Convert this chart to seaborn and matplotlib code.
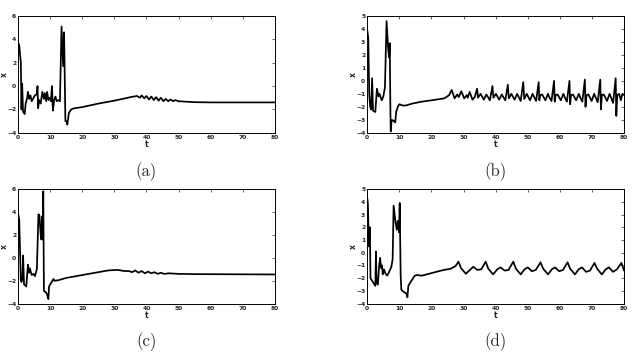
import numpy as np
import pandas as pd
import seaborn as sns
import matplotlib.pyplot as plt

# panel (a)
t_a = [0, 0.3, 0.8, 1.0, 1.2, 1.5, 2.0, 2.3, 2.8, 3.0, 3.4, 3.8, 4.2, 4.8, 5.2, 5.8, 6.0, 6.2, 6.5,
       7.0, 7.5, 8.0, 8.3, 8.7, 9.0, 9.4, 9.8, 10.2, 10.5, 10.8, 11.2, 11.6, 12.0, 12.5, 13.0, 13.5,
       14.0, 14.3, 14.7, 15.1, 15.3, 15.8, 16.5, 17.5, 20, 25, 30, 35, 37, 38, 38.5, 39.3, 40, 40.8,
       41.5, 42.3, 43, 43.8, 44.5, 45.3, 46, 46.8, 47.5, 48.3, 49, 50, 55, 60, 80]
x_a = [3.7, 3.5, 2.0, -2.0, 0.2, -2.2, -2.4, -1.5, -1.0, -0.5, -1.1, -0.8, -1.3, -1.0, -0.8, -0.7, 0.0,
       -1.9, -1.2, -1.5, -0.5, -1.1, -0.6, -1.3, -0.5, -1.2, -1.0, -1.3, 0.0, -2.1, -1.2, -0.9, -1.3,
       -1.2, -1.3, 5.1, 1.7, 4.6, -3.0, -3.0, -3.3, -2.3, -2.0, -1.9, -1.8, -1.5, -1.25, -0.95, -0.85,
       -1.0, -0.8, -1.05, -0.85, -1.15, -0.9, -1.2, -0.95, -1.25, -1.0, -1.3, -1.1, -1.3, -1.15, -1.3,
       -1.2, -1.3, -1.38, -1.4, -1.4]

# panel (b)
t_b = [0, 0.3, 0.6, 0.9, 1.2, 1.5, 1.8, 2.5, 3.0, 3.5, 3.8, 4.5, 5.0, 5.5, 6.0, 6.5, 6.8, 7.0, 7.2,
       7.3, 7.6, 8.3, 8.7, 9.0, 9.5, 10, 11, 12, 14, 17, 20, 24, 25.5, 26.3, 27.2, 28.0, 28.5, 29.3,
       30.2, 31.0, 31.3, 31.9, 32.8, 33.5, 34.2,
       34.5, 35.3, 36.3, 37.1, 37.6, 38.2, 39.0,
       39.3, 40.1, 41.1, 41.9, 42.4, 43.0, 43.8,
       44.1, 44.9, 45.9, 46.7, 47.2, 47.8, 48.6,
       48.9, 49.7, 50.7, 51.5, 52.0, 52.6, 53.4,
       53.6, 53.9, 54.5, 55.5, 56.3, 56.8, 57.4, 58.2,
       58.4, 58.7, 59.3, 60.3, 61.1, 61.6, 62.2, 63.0,
       63.2, 63.5, 64.1, 65.1, 65.9, 66.4, 67.0, 67.8,
       68.0, 68.3, 68.9, 69.9, 70.7, 71.2, 71.8, 72.6,
       72.8, 73.1, 73.7, 74.7, 75.5, 76.0, 76.6, 77.4,
       77.6, 77.9, 78.5, 79.0, 79.5, 80]
x_b = [3.9, 3.3, -1.0, -2.0, -2.2, 0.2, -2.3, -2.4, -0.6, -1.2, -1.0, -1.5, -1.2, -0.5, 4.6, 2.5, 1.8,
       2.9, -2.3, -3.9, -3.0, -3.1, -3.2, -2.4, -2.0, -1.8, -1.9, -1.9, -1.75, -1.6, -1.5, -1.35, -1.1,
       -0.7, -1.35, -1.05, -1.25, -0.8, -1.35, -1.1, -1.3, -0.85, -1.45, -1.25, -0.6,
       -1.3, -1.0, -1.45, -1.05, -1.25, -1.5, -0.4,
       -1.3, -1.0, -1.45, -1.05, -1.25, -1.5, -0.3,
       -1.35, -1.0, -1.45, -1.0, -1.25, -1.55, -0.1,
       -1.4, -1.0, -1.5, -1.0, -1.25, -1.55, -0.1,
       -1.5, -1.1, -1.05, -1.5, -1.0, -1.3, -1.55, 0.0,
       -1.6, -1.1, -1.05, -1.5, -1.0, -1.3, -1.6, 0.0,
       -1.8, -1.1, -1.05, -1.5, -1.0, -1.3, -1.6, 0.1,
       -2.0, -1.1, -1.05, -1.55, -1.0, -1.3, -1.65, 0.1,
       -2.2, -1.1, -1.05, -1.55, -1.0, -1.3, -1.7, 0.2,
       -2.7, -1.1, -1.0, -1.5, -1.0, -1.1]

# panel (c)
t_c = [0, 0.3, 0.8, 1.0, 1.3, 1.5, 1.8, 2.5, 3.0, 3.3, 3.6, 4.2, 4.8, 5.2, 5.8, 6.3, 6.6, 7.0, 7.2,
       7.4, 7.6, 7.8, 8.0, 8.6, 9.0, 9.4, 9.6, 10.2, 11.0, 11.3, 12.5, 15, 20, 25, 28, 31, 33, 34.5,
       35.5, 36.5, 37.5, 38.5, 39.5, 40.5, 41.5, 42.5, 43.5, 44.5, 45.5, 47, 50, 55, 80]
x_c = [3.8, 3.3, -2.0, -2.1, -1.9, 0.2, -2.3, -2.5, -0.6, -1.3, -0.9, -1.5, -1.4, -1.6, -1.0, 3.8,
       3.7, 2.0, 1.6, 3.6, 1.6, 5.8, -2.9, -3.0, -3.2, -3.6, -2.5, -2.2, -1.85, -2.0, -1.95, -1.75,
       -1.5, -1.25, -1.1, -1.05, -1.15, -1.15, -1.25, -1.1, -1.3, -1.15, -1.35, -1.2, -1.35, -1.25,
       -1.4, -1.3, -1.4, -1.35, -1.4, -1.42, -1.45]

# panel (d)
t_d = [0, 0.2, 0.5, 0.8, 1.0, 2.0, 2.5, 2.7, 2.9, 3.3, 3.7, 4.0, 4.3, 4.6, 4.8, 5.2, 5.6, 6.2, 6.8,
       7.5, 7.9, 8.2, 8.8, 9.2, 9.5, 9.7, 9.9, 10.1, 10.4, 10.6, 11.5, 12.2, 12.5, 12.8, 13.5, 14.8,
       15.5, 17, 20, 23, 26, 27.5, 28.4,
       29.2, 30.7, 32.0, 33.0, 34.3, 35.5, 36.9,
       37.7, 39.2, 40.5, 41.5, 42.8, 44.0, 45.5,
       46.3, 47.8, 49.0, 50.0, 51.3, 52.5, 54.0,
       54.8, 56.3, 57.5, 58.5, 59.8, 61.0, 62.4,
       63.2, 64.7, 65.9, 66.9, 68.2, 69.4, 70.8,
       71.6, 73.1, 74.3, 75.3, 76.6, 77.8, 79.2, 80]
x_d = [4.3, 3.8, 0.5, 2.0, -2.0, -2.4, -2.6, 0.1, -2.4, -2.5, -1.0, -0.4, -1.2, -1.0, -1.7, -1.3, -1.6,
       -1.8, -1.5, -1.1, -0.5, 3.7, 2.4, 1.8, 2.5, 2.2, 1.6, 3.9, -1.8, -2.9, -3.1, -3.2, -3.5, -2.6,
       -2.3, -1.8, -1.75, -1.8, -1.6, -1.4, -1.25, -1.05, -0.7,
       -1.2, -1.65, -1.35, -1.1, -1.35, -1.3, -0.7,
       -1.25, -1.7, -1.3, -1.15, -1.4, -1.35, -0.7,
       -1.25, -1.7, -1.3, -1.15, -1.45, -1.35, -0.75,
       -1.25, -1.7, -1.3, -1.15, -1.45, -1.35, -0.75,
       -1.25, -1.7, -1.3, -1.15, -1.5, -1.4, -0.8,
       -1.25, -1.7, -1.3, -1.15, -1.5, -1.3, -0.8, -1.4]

panels = [
    ("(a)", t_a, x_a, [-4, -2, 0, 2, 4, 6]),
    ("(b)", t_b, x_b, [-4, -3, -2, -1, 0, 1, 2, 3, 4, 5]),
    ("(c)", t_c, x_c, [-4, -2, 0, 2, 4, 6]),
    ("(d)", t_d, x_d, [-4, -3, -2, -1, 0, 1, 2, 3, 4, 5]),
]
t_ticks = [0, 10, 20, 30, 40, 50, 60, 70, 80]

sns.set_style("white")

fig = plt.figure(figsize=(6.41, 3.55), dpi=100)
boxes = [[0.0285, 0.626, 0.4, 0.329],
         [0.573, 0.626, 0.4005, 0.329],
         [0.0285, 0.1445, 0.4, 0.323],
         [0.573, 0.1445, 0.4005, 0.323]]

for (lab, t, x, yt), box in zip(panels, boxes):
    ax = fig.add_axes(box)
    df = pd.DataFrame({"t": t, "x": x})
    sns.lineplot(data=df, x="t", y="x", ax=ax, color="black", linewidth=1.25,
                 estimator=None, sort=False)
    ax.set_xlim(0, 80)
    ax.set_ylim(yt[0], yt[-1])
    ax.set_xticks(t_ticks)
    ax.set_yticks(yt)
    ax.tick_params(direction="in", length=2.5, width=0.5, labelsize=4.3, pad=1.5,
                   top=True, right=True)
    for tl in ax.get_xticklabels() + ax.get_yticklabels():
        tl.set_fontweight("bold")
    for s in ax.spines.values():
        s.set_linewidth(0.7)
        s.set_color("black")
    ax.set_xlabel("t", fontsize=5.5, labelpad=0, fontweight="bold")
    ax.set_ylabel("x", fontsize=5.5, fontweight="bold")
    ax.yaxis.set_label_coords(-0.038, 0.5)
    ax.text(0.5, -0.33, lab, transform=ax.transAxes, ha="center", va="center",
            fontsize=12, family=["cmr10", "DejaVu Serif"])

fig.savefig("out.png", dpi=100)
